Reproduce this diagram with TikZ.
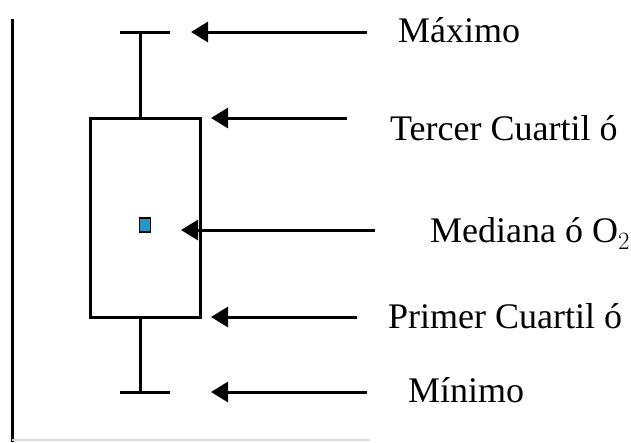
\documentclass[tikz,border=0pt]{standalone}
\usepackage{fontspec}
\setmainfont{Liberation Serif}
\usetikzlibrary{arrows.meta}
\definecolor{medblue}{RGB}{40,150,200}
\tikzset{
  bar/.style={line width=3pt},
  pointer/.style={line width=3pt, -{Triangle[length=17pt,width=20pt]}},
  lbl/.style={anchor=base west, inner sep=0pt, font=\fontsize{36}{42}\selectfont},
}
\begin{document}
\begin{tikzpicture}[x=1pt,y=-1pt]
  \useasboundingbox (0,0) rectangle (631,442);
  % Axis
  \draw[bar] (12,19) -- (12,442);
  \draw[black!15, line width=1.5pt] (12,440) -- (370,440);

  % Box and whiskers
  \node[draw, bar, minimum width=110pt, minimum height=199pt, inner sep=0pt] (box) at (145,217.5) {};
  \coordinate (topcap) at (140,32);
  \coordinate (botcap) at (140,392);
  \draw[bar] (box.north -| topcap) -- (topcap);
  \draw[bar] (box.south -| botcap) -- (botcap);
  \draw[bar] ([xshift=-20pt]topcap) -- ([xshift=30pt]topcap);
  \draw[bar] ([xshift=-20pt]botcap) -- ([xshift=30pt]botcap);
  \node[draw, line width=1.8pt, fill=medblue, minimum width=11pt, minimum height=14pt, inner sep=0pt] (median) at (145,225) {};

  % Labels and arrows
  \foreach \name/\y/\tip/\tail/\tx/\base/\txt in {max/32/191/367/398/42/Máximo, q3/118/211/347/390/140/Tercer Cuartil ó, med/230/181/375/430/242/Mediana ó O$_2$, q1/317/211/357/388/328/Primer Cuartil ó, min/392/211/367/408/402/Mínimo}
  {
    \coordinate (\name tip) at (\tip,\y);
    \coordinate (\name tail) at (\tail,\y);
    \node[lbl] (\name) at (\tx,\base) {\txt};
    \draw[pointer] (\name tail) -- (\name tip);
  }
\end{tikzpicture}
\end{document}
